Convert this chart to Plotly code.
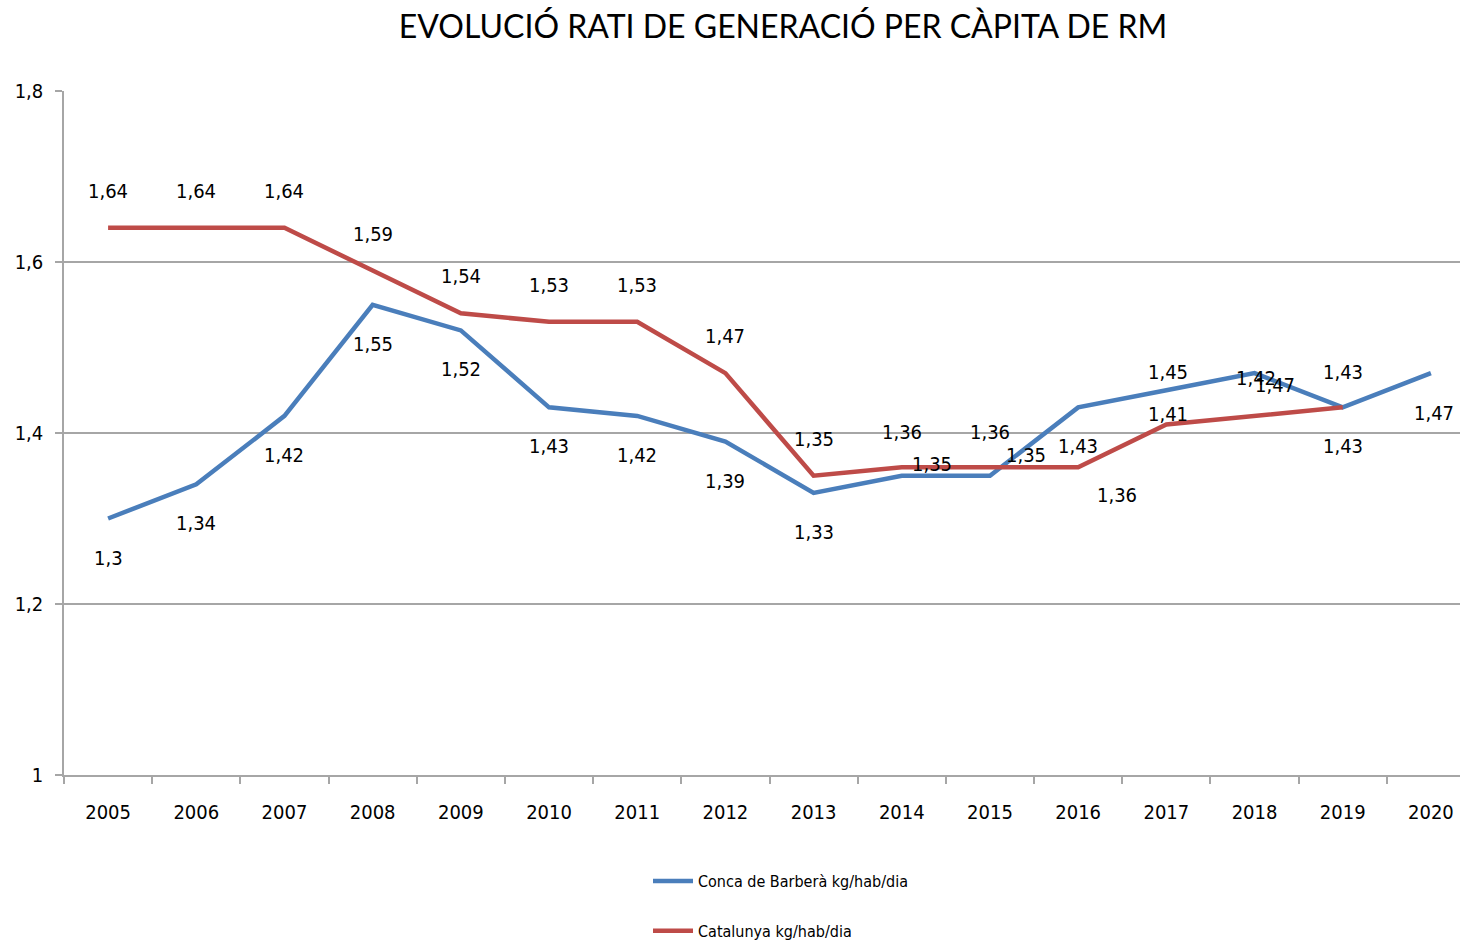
import plotly.graph_objects as go

years = [str(y) for y in range(2005, 2021)]
conca = [1.3, 1.34, 1.42, 1.55, 1.52, 1.43, 1.42, 1.39, 1.33, 1.35, 1.35, 1.43, 1.45, 1.47, 1.43, 1.47]
catalunya = [1.64, 1.64, 1.64, 1.59, 1.54, 1.53, 1.53, 1.47, 1.35, 1.36, 1.36, 1.36, 1.41, 1.42, 1.43]
y_ticks = [1.0, 1.2, 1.4, 1.6, 1.8]

# label offsets in pixels (dx right, dy up)
conca_off = [(0, -39)] * 9 + [(30, 12), (36, 21), (0, -39), (2, 18), (20, -12), (0, -39), (3, -40)]
cat_off = [(0, 37)] * 9 + [(0, 35), (0, 35), (39, -28), (2, 10), (1, 38), (0, 35)]

BLUE = "#4A7EBB"
RED = "#BE4B48"
GRID = "#A6A6A6"
LBL_FONT = "Liberation Sans Narrow, DejaVu Sans Condensed, Arial Narrow, sans-serif"

fig = go.Figure()
fig.add_trace(go.Scatter(x=years, y=conca, mode="lines", name="Conca de Barberà kg/hab/dia",
                         line=dict(color=BLUE, width=4.5), legendgroup="a"))
fig.add_trace(go.Scatter(x=years[:len(catalunya)], y=catalunya, mode="lines", name="Catalunya kg/hab/dia",
                         line=dict(color=RED, width=4.5), legendgroup="b"))

def fmt(v):
    return f"{v:g}".replace(".", ",")

anns = []
for vals, offs in [(conca, conca_off), (catalunya, cat_off)]:
    for i, (v, (dx, dy)) in enumerate(zip(vals, offs)):
        anns.append(dict(x=i, y=v, xref="x", yref="y", text=fmt(v), showarrow=False,
                         xshift=dx, yshift=dy, font=dict(family=LBL_FONT, size=20, color="#000000")))

PLOT_H = 943 - 91 - 168

fig.update_layout(
    width=1460, height=943,
    margin=dict(l=64, r=0, t=91, b=168, autoexpand=False),
    paper_bgcolor="white", plot_bgcolor="white",
    separators=",.",
    title=dict(text="EVOLUCIÓ RATI DE GENERACIÓ PER CÀPITA DE RM",
               font=dict(family="Lato, Open Sans, sans-serif", size=32, color="#000000"),
               x=783 / 1460, xanchor="center", y=1 - 27 / 943, yanchor="middle"),
    annotations=anns,
    showlegend=True,
    legend=dict(orientation="v", x=(648 - 64) / 1396, xanchor="left", y=(775 - 864) / PLOT_H, yanchor="top",
                traceorder="grouped", tracegroupgap=26, bgcolor="rgba(0,0,0,0)",
                font=dict(family=LBL_FONT, size=16, color="#000000"), itemwidth=40),
    xaxis=dict(type="category", range=[-0.5, 15.33], tickson="boundaries", ticks="outside",
               ticklen=7, tickcolor=GRID, tickwidth=1.5, showline=True, linecolor=GRID, linewidth=1.5,
               showgrid=False, tickfont=dict(family=LBL_FONT, size=20, color="#000000"),
               ticklabelstandoff=18, automargin=False),
    yaxis=dict(range=[1.0, 1.8], tickvals=y_ticks, ticks="outside", ticklen=7, tickcolor=GRID,
               tickwidth=1.5, showline=True, linecolor=GRID, linewidth=1.5, showgrid=True,
               gridcolor=GRID, gridwidth=1.5, zeroline=False, automargin=False,
               tickfont=dict(family=LBL_FONT, size=20, color="#000000"), ticklabelstandoff=8),
)

fig.write_html("out.html", config={"displayModeBar": False},
               post_script="document.body.style.margin='0px';")
